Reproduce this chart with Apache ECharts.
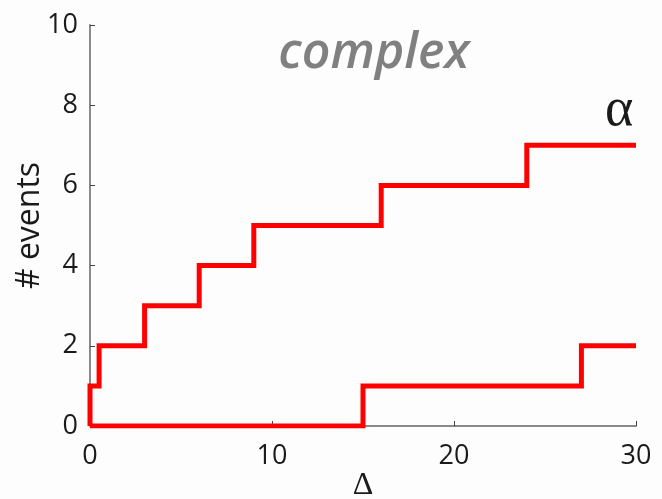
<!DOCTYPE html>
<html>
<head>
<meta charset="utf-8">
<script src="https://cdn.jsdelivr.net/npm/echarts@6/dist/echarts.min.js"></script>
<style>
  html, body { margin: 0; padding: 0; background: #ffffff; }
  #chart { width: 662px; height: 499px; }
</style>
</head>
<body>
<div id="chart"></div>
<script>
// Cumulative event counts versus Δ, drawn as step curves
const upperSteps = [[0, 0], [0, 1], [0.5, 2], [3, 3], [6, 4], [9, 5], [16, 6], [24, 7], [30, 7]];
const lowerSteps = [[0, 0], [15, 1], [27, 2], [30, 2]];
const xTicks = [0, 10, 20, 30];
const yTicks = [0, 2, 4, 6, 8, 10];
const titleText = 'complex';
const curveLabel = 'α';

const chart = echarts.init(document.getElementById('chart'), null, { renderer: 'canvas' });

const axisColor = '#8a8a8a';
const labelStyle = { color: '#1a1a1a', fontFamily: 'Open Sans', fontSize: 27 };

chart.setOption({
  backgroundColor: '#fdfdfd',
  animation: false,
  title: {
    text: titleText,
    left: 369,
    top: 24,
    textAlign: 'center',
    textStyle: { color: '#808080', fontFamily: 'Open Sans', fontStyle: 'italic', fontWeight: 600, fontSize: 50 }
  },
  grid: { left: 90, right: 26, top: 25, bottom: 73, outerBoundsMode: 'none', containLabel: false },
  xAxis: {
    type: 'value',
    min: xTicks[0],
    max: xTicks[xTicks.length - 1],
    interval: 10,
    name: 'Δ',
    nameLocation: 'middle',
    nameGap: 44,
    nameMoveOverlap: false,
    nameTextStyle: { color: '#1a1a1a', fontFamily: 'Liberation Serif', fontSize: 32 },
    axisLine: { lineStyle: { color: axisColor, width: 2 } },
    axisTick: { inside: true, length: 5, lineStyle: { color: '#444', width: 1 } },
    axisLabel: { margin: 17, ...labelStyle },
    splitLine: { show: false }
  },
  yAxis: {
    type: 'value',
    min: yTicks[0],
    max: yTicks[yTicks.length - 1],
    interval: 2,
    name: '# events',
    nameLocation: 'middle',
    nameGap: 44,
    nameMoveOverlap: false,
    nameTextStyle: { color: '#1a1a1a', fontFamily: 'Open Sans', fontSize: 32 },
    axisLine: { show: true, lineStyle: { color: axisColor, width: 2 } },
    axisTick: { show: true, inside: true, length: 5, lineStyle: { color: '#444', width: 1 } },
    axisLabel: { margin: 12, ...labelStyle },
    splitLine: { show: false }
  },
  graphic: [
    {
      type: 'text',
      left: 605,
      top: 84,
      style: { text: curveLabel, fill: '#1a1a1a', font: '54px "Liberation Serif"' }
    }
  ],
  series: [
    {
      type: 'line',
      step: 'end',
      data: upperSteps,
      symbol: 'none',
      lineStyle: { color: '#ff0000', width: 5, join: 'miter', cap: 'butt' },
      z: 3
    },
    {
      type: 'line',
      step: 'end',
      data: lowerSteps,
      symbol: 'none',
      lineStyle: { color: '#ff0000', width: 5, join: 'miter', cap: 'butt' },
      z: 3
    }
  ]
});
</script>
</body>
</html>
